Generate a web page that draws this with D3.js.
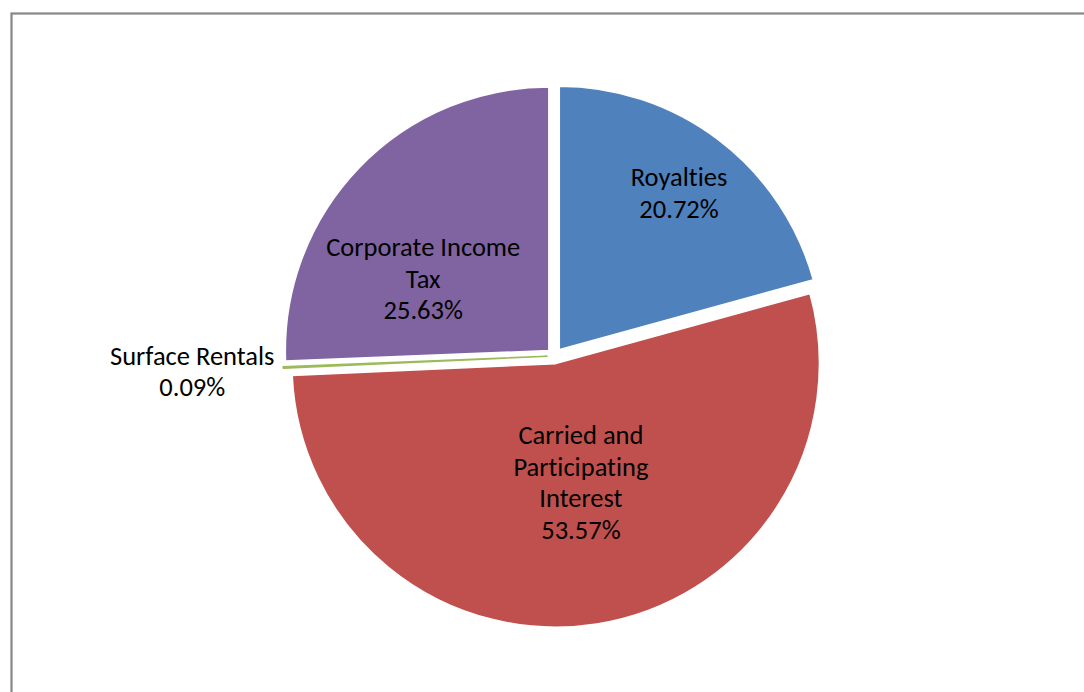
<!DOCTYPE html>
<html>
<head>
<meta charset="utf-8">
<script src="https://cdn.jsdelivr.net/npm/d3@7"></script>
<style>
  body { margin: 0; background: #fff; }
  svg { display: block; }
  .slice-label { font-family: Carlito, Calibri, Lato, sans-serif; font-size: 26.5px; fill: #000; font-variant-ligatures: none; }
</style>
</head>
<body>
<svg id="chart" width="1084" height="692"></svg>
<script>
const categories = ['Royalties', 'Carried and Participating Interest', 'Surface Rentals', 'Corporate Income Tax'];
const shares = [20.72, 53.57, 0.09, 25.63];
const colors = ['#4F81BD', '#C0504D', '#9BBB59', '#8064A2'];
const labelLines = [
  ['Royalties'],
  ['Carried and', 'Participating', 'Interest'],
  ['Surface Rentals'],
  ['Corporate Income', 'Tax']
];

// label placement: fraction of radius and angle shift (degrees)
const labelLayout = [
  { r: 0.75, shift: 0 },
  { r: 0.46, shift: -3 },
  { r: 1.345, shift: 0 },
  { r: 0.55, shift: -14 }
];

const svg = d3.select('#chart');
const width = 1084, height = 692;

// chart area border (runs off the page on right and bottom)
svg.append('rect')
  .attr('x', 11.5)
  .attr('y', 13.5)
  .attr('width', width + 20)
  .attr('height', height + 20)
  .attr('fill', 'none')
  .attr('stroke', '#868686')
  .attr('stroke-width', 2.2);

const cx = 554.5, cy = 356;
const radius = 264;
const explode = 7.5;
const lineHeight = 31.5;

const pie = d3.pie().sort(null).value(d => d.value);
const data = categories.map((c, i) => ({ name: c, value: shares[i], i }));
const arcs = pie(data);

const arc = d3.arc().innerRadius(0).outerRadius(radius);

const g = svg.append('g').attr('transform', `translate(${cx},${cy})`);

const slices = g.selectAll('.slice')
  .data(arcs)
  .enter()
  .append('g')
  .attr('class', 'slice')
  .attr('transform', d => {
    const mid = (d.startAngle + d.endAngle) / 2;
    return `translate(${explode * Math.sin(mid)},${-explode * Math.cos(mid)})`;
  });

slices.append('path')
  .attr('d', arc)
  .attr('fill', d => colors[d.data.i])
  .attr('stroke', d => d.data.i === 2 ? colors[2] : '#fff')
  .attr('stroke-width', d => d.data.i === 2 ? 1.5 : 2)
  .attr('stroke-linejoin', 'round');

// labels
slices.each(function(d) {
  const i = d.data.i;
  const lay = labelLayout[i];
  const mid = (d.startAngle + d.endAngle) / 2 + lay.shift * Math.PI / 180;
  const lx = radius * lay.r * Math.sin(mid);
  const ly = -radius * lay.r * Math.cos(mid);
  const lines = labelLines[i].concat([d3.format('.2f')(shares[i]) + '%']);
  const text = d3.select(this).append('text')
    .attr('class', 'slice-label')
    .attr('text-anchor', 'middle');
  const top = ly - (lines.length - 1) * lineHeight / 2;
  lines.forEach((t, k) => {
    text.append('tspan')
      .attr('x', lx)
      .attr('y', top + k * lineHeight)
      .attr('dy', '0.35em')
      .text(t);
  });
});
</script>
</body>
</html>
